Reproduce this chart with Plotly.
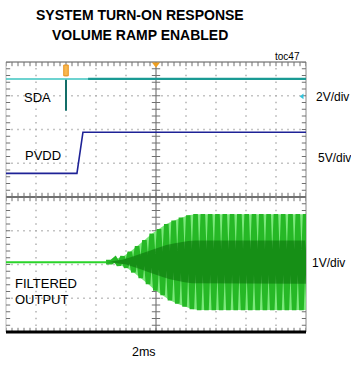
import numpy as np
import plotly.graph_objects as go

# ---------------- data ----------------
# time base: 2 ms/div, 10 divisions -> 0 .. 20 ms ; 8 vertical divisions
TIME_PER_DIV_MS = 2.0
N_XDIV = 10
N_YDIV = 8

# SDA channel, 2 V/div, reference level at 7.0 div
SDA_SCALE = 2.0
SDA_OFFSET = 7.0
SDA_T_QUIET = [0.0, 5.47]
SDA_V_QUIET = [1.0, 1.0]
SDA_T_BUSY = [5.47, 20.0]
SDA_V_BUSY = [1.0, 1.0]
SDA_SPIKE_T = [4.0, 4.0]
SDA_SPIKE_V = [0.95, -0.89]

# PVDD channel, 5 V/div
PVDD_SCALE = 5.0
PVDD_OFFSET = 4.70
PVDD_T = [0.0, 4.73, 5.13, 20.0]
PVDD_V = [0.0, 0.0, 6.1, 6.1]

# Filtered output, 1 V/div
OUT_SCALE = 1.0
OUT_OFFSET = 2.07
OUT_FLAT_T = [0.0, 6.67]
OUT_FLAT_V = [0.0, 0.0]
BURST_START_MS = 6.67
TONE_PERIOD_MS = 0.487
# peak amplitude (V) of each tone cycle
BURST_PEAK_V = [0.00, 0.09, 0.16, 0.30, 0.47, 0.65, 0.84, 0.98, 1.13, 1.23,
                1.32, 1.39, 1.42, 1.42, 1.42, 1.42, 1.42, 1.42, 1.42, 1.42,
                1.42, 1.42, 1.42, 1.42, 1.42, 1.42, 1.42, 1.42]

# ---------------- figure geometry ----------------
W, H = 351, 370
L, R, T, B = 6, 306, 62, 332
XMAX = TIME_PER_DIV_MS * N_XDIV


def px(xp):
    return (xp - L) / (R - L)


def py(yp):
    return (B - yp) / (B - T)


fig = go.Figure()

# grid dots
minor_x = np.arange(0, XMAX + 1e-9, TIME_PER_DIV_MS / 5)
minor_y = np.arange(0, N_YDIV + 1e-9, 0.2)
gx, gy = [], []
for mx in np.arange(TIME_PER_DIV_MS, XMAX, TIME_PER_DIV_MS):
    if abs(mx - XMAX / 2) < 1e-6:
        continue
    for my in minor_y:
        gx.append(mx); gy.append(my)
for my in range(1, N_YDIV):
    if my == N_YDIV // 2:
        continue
    for mx in minor_x:
        gx.append(mx); gy.append(my)
fig.add_trace(go.Scatter(x=gx, y=gy, mode="markers", hoverinfo="skip",
                         marker=dict(symbol="square", size=1.5, color="#b0b0b0",
                                     line=dict(width=0))))

# tick marks on borders and centre cross
tick_style_ns = dict(symbol="line-ns", size=6, line=dict(width=1, color="#707070"))
tick_style_ew = dict(symbol="line-ew", size=6, line=dict(width=1, color="#707070"))
for yy in (0, N_YDIV, N_YDIV / 2):
    fig.add_trace(go.Scatter(x=minor_x, y=[yy] * len(minor_x), mode="markers",
                             hoverinfo="skip", marker=tick_style_ns))
for xx in (0, XMAX, XMAX / 2):
    fig.add_trace(go.Scatter(x=[xx] * len(minor_y), y=minor_y, mode="markers",
                             hoverinfo="skip", marker=tick_style_ew))

# ---- filtered output ----
t0 = BURST_START_MS
P = TONE_PERIOD_MS
zt, zv = [t0], [0.0]
up_t, up_v, lo_t, lo_v = [t0], [0.0], [t0], [0.0]
for k, a in enumerate(BURST_PEAK_V):
    zt += [t0 + (k + 0.25) * P, t0 + (k + 0.75) * P]
    zv += [a, -a]
    up_t.append(t0 + (k + 0.25) * P); up_v.append(a)
    lo_t.append(t0 + (k + 0.75) * P); lo_v.append(-a)
env_t = up_t + lo_t[::-1]
env_v = up_v + lo_v[::-1]
to_div = lambda v: [OUT_OFFSET + x / OUT_SCALE for x in v]

fig.add_trace(go.Scatter(x=env_t, y=to_div(env_v), mode="lines", fill="toself",
                         fillcolor="#7ce87c", line=dict(width=0), hoverinfo="skip"))
fig.add_trace(go.Scatter(x=zt, y=to_div(zv), mode="lines", hoverinfo="skip",
                         line=dict(color="#26b826", width=4.6)))
band_v = [0.45 * v for v in env_v]
fig.add_trace(go.Scatter(x=env_t, y=to_div(band_v), mode="lines", fill="toself",
                         fillcolor="rgba(0,85,0,0.42)", line=dict(width=0),
                         hoverinfo="skip"))
fig.add_trace(go.Scatter(x=OUT_FLAT_T, y=to_div(OUT_FLAT_V), mode="lines",
                         hoverinfo="skip", line=dict(color="#2ad42a", width=2)))

# ---- PVDD ----
fig.add_trace(go.Scatter(x=PVDD_T, y=[PVDD_OFFSET + v / PVDD_SCALE for v in PVDD_V],
                         mode="lines", hoverinfo="skip",
                         line=dict(color="#1e2296", width=1.6)))

# ---- SDA ----
sda = lambda v: [SDA_OFFSET + x / SDA_SCALE for x in v]
fig.add_trace(go.Scatter(x=SDA_T_QUIET, y=sda(SDA_V_QUIET), mode="lines",
                         hoverinfo="skip", line=dict(color="#3cc4c0", width=1.5)))
fig.add_trace(go.Scatter(x=SDA_T_BUSY, y=sda(SDA_V_BUSY), mode="lines",
                         hoverinfo="skip", line=dict(color="#1a9a94", width=2.4)))
fig.add_trace(go.Scatter(x=SDA_SPIKE_T, y=sda(SDA_SPIKE_V), mode="lines",
                         hoverinfo="skip", line=dict(color="#136e68", width=2)))

# markers: trigger position, channel ground arrow
fig.add_trace(go.Scatter(x=[XMAX / 2], y=[7.93], mode="markers", cliponaxis=False,
                         hoverinfo="skip",
                         marker=dict(symbol="triangle-down", size=7, color="#f0a020",
                                     line=dict(width=0))))
fig.add_trace(go.Scatter(x=[19.75], y=[6.98], mode="markers", cliponaxis=False,
                         hoverinfo="skip",
                         marker=dict(symbol="triangle-left", size=5, color="#30c4dc",
                                     line=dict(width=0))))

shapes = [
    dict(type="rect", xref="x", yref="y", x0=3.85, x1=4.15, y0=7.59, y1=7.91,
         fillcolor="#f8b850", line=dict(color="#e8901a", width=1), layer="above"),
    # centre cross
    dict(type="line", xref="x", yref="paper", x0=XMAX / 2, x1=XMAX / 2, y0=0, y1=1,
         line=dict(color="#606060", width=1), layer="below"),
    dict(type="line", xref="paper", yref="y", x0=0, x1=1, y0=N_YDIV / 2, y1=N_YDIV / 2,
         line=dict(color="#404040", width=1.5), layer="below"),
    # borders
    dict(type="line", xref="paper", yref="paper", x0=0, x1=1, y0=1, y1=1,
         line=dict(color="#555555", width=1), layer="below"),
    dict(type="line", xref="paper", yref="paper", x0=0, x1=0, y0=0, y1=1,
         line=dict(color="#bbbbbb", width=1), layer="below"),
    dict(type="line", xref="paper", yref="paper", x0=1, x1=1, y0=0, y1=1,
         line=dict(color="#888888", width=1), layer="below"),
    dict(type="line", xref="paper", yref="paper", x0=0, x1=1, y0=0, y1=0,
         line=dict(color="#000000", width=3), layer="above"),
]

FONT = "Liberation Sans, Arial, sans-serif"
ann = []


def text(s, xp, yp, size, anchor="left", bold=False):
    ann.append(dict(text=f"<b>{s}</b>" if bold else s, xref="paper", yref="paper",
                    x=px(xp), y=py(yp), xanchor=anchor, yanchor="middle",
                    showarrow=False, font=dict(family=FONT, size=size, color="#000")))


text("SYSTEM TURN-ON RESPONSE", 139.5, 15.5, 14, "center", True)
text("VOLUME RAMP ENABLED", 140, 34.5, 14, "center", True)
text("toc47", 302, 57, 10, "right")
text("SDA", 22, 97, 13)
text("PVDD", 23, 155, 13)
text("FILTERED", 13, 283, 13)
text("OUTPUT", 13, 299, 13)
text("2V/div", 314, 97, 12)
text("5V/div", 316, 158, 12)
text("1V/div", 310, 263, 12)
text("2ms", 144, 352, 12.5, "center")

fig.update_layout(
    width=W, height=H, margin=dict(l=L, r=W - R, t=T, b=H - B, pad=0),
    paper_bgcolor="white", plot_bgcolor="white", showlegend=False,
    xaxis=dict(range=[0, XMAX], showgrid=False, zeroline=False, showticklabels=False,
               ticks="", showline=False, fixedrange=True),
    yaxis=dict(range=[0, N_YDIV], showgrid=False, zeroline=False, showticklabels=False,
               ticks="", showline=False, fixedrange=True),
    shapes=shapes, annotations=ann,
)

fig.write_html("out.html", config={"displayModeBar": False},
               post_script="document.body.style.margin='0';document.body.style.padding='0';")
